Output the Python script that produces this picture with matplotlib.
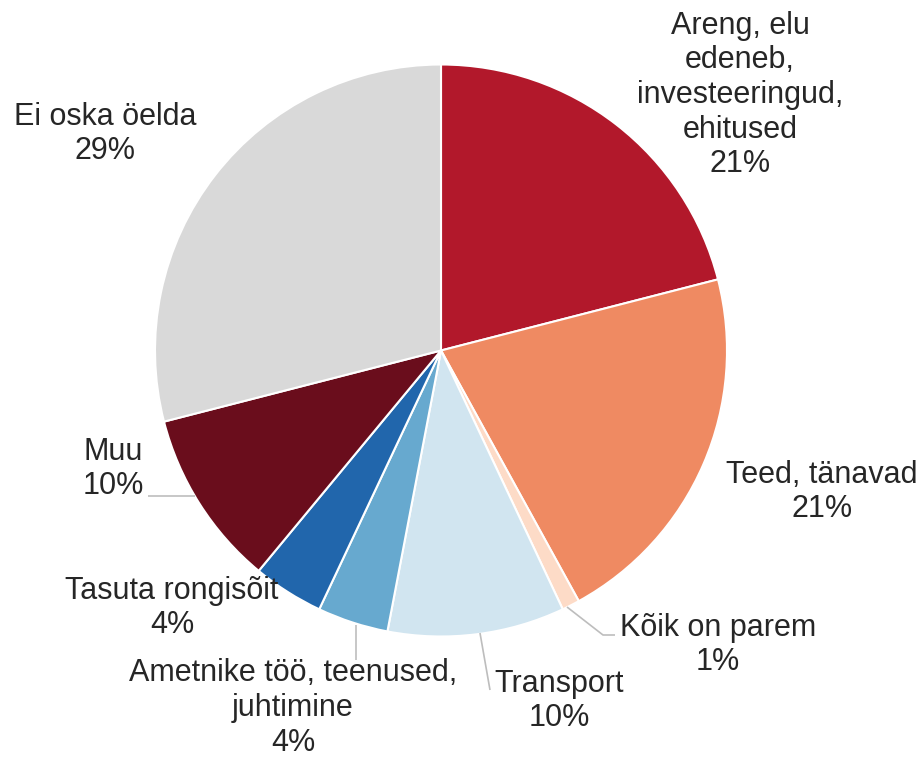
import matplotlib
matplotlib.use("Agg")
import matplotlib.pyplot as plt

# Survey answers, clockwise from 12 o'clock
labels = [
    "Areng, elu\nedeneb,\ninvesteeringud,\nehitused",
    "Teed, tänavad",
    "Kõik on parem",
    "Transport",
    "Ametnike töö, teenused,\njuhtimine",
    "Tasuta rongisõit",
    "Muu",
    "Ei oska öelda",
]
shares = [21, 21, 1, 10, 4, 4, 10, 29]
colors = ["#b2182b", "#ef8a62", "#fddbc7", "#d1e5f0",
          "#67a9cf", "#2166ac", "#6a0d1c", "#d9d9d9"]

W, H = 924, 758
fig = plt.figure(figsize=(W / 100, H / 100), dpi=100)
ax = fig.add_axes([0, 0, 1, 1])

cx, cy, R = 441, H - 350.5, 286
ax.pie(shares, colors=colors, startangle=90, counterclock=False,
       center=(cx, cy), radius=R, frame=True,
       wedgeprops=dict(edgecolor="white", linewidth=1.5))
ax.set_xlim(0, W)
ax.set_ylim(0, H)
ax.set_aspect("equal")
ax.axis("off")

# label block centres in pixel coordinates (y from top)
label_pos = [(740, 95), (822, 492), (718, 645), (559, 701),
             (293, 708), (172, 608), (113, 469), (105, 134)]

for lab, val, (x, y) in zip(labels, shares, label_pos):
    ax.text(x, H - y, f"{lab}\n{val}%", ha="center", va="center",
            fontsize=22, family="Liberation Sans", color="#262626",
            linespacing=1.2)

# leader lines for labels set away from their slices
leader = dict(color="#bdbdbd", lw=1.2, solid_capstyle="butt")
leaders = [
    ([567, 603, 615], [607, 635, 635]),   # Kõik on parem
    ([480, 490], [633, 690]),             # Transport
    ([356, 356], [625, 660]),             # Ametnike töö
    ([148, 195], [496, 496]),             # Muu
]
for xs, ys in leaders:
    ax.plot(xs, [H - v for v in ys], **leader)

fig.savefig("out.png", dpi=100)
